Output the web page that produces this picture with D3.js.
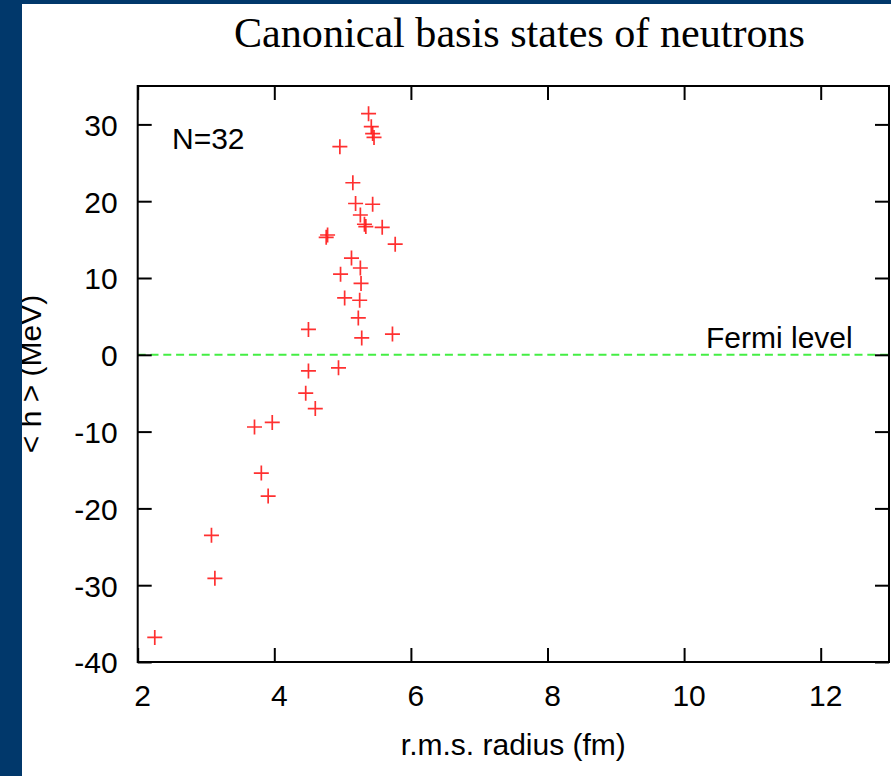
<!DOCTYPE html>
<html>
<head>
<meta charset="utf-8">
<script src="https://cdn.jsdelivr.net/npm/d3@7"></script>
<style>
  body { margin: 0; background: #ffffff; }
  svg { display: block; }
</style>
</head>
<body>
<svg></svg>
<script>
/* data */
var radius = [2.25, 3.08, 3.13, 3.71, 3.97, 3.81, 3.91, 4.46, 4.50, 4.60,
              4.50, 4.94, 4.76, 4.78, 4.96, 4.97, 5.03, 5.13, 5.15, 5.19,
              5.26, 5.32, 5.34, 5.58, 5.44, 5.26, 5.27, 5.25, 5.23, 5.28,
              5.73, 5.77, 5.38, 5.42, 5.44, 5.46];
var energy = [-36.8, -23.5, -29.1, -9.4, -8.8, -15.4, -18.4, -5.0, -2.1, -7.0,
              3.3, -1.7, 15.3, 15.6, 27.1, 10.5, 7.4, 12.6, 22.4, 19.7,
              18.2, 17.0, 16.7, 16.6, 19.6, 11.3, 9.3, 7.1, 4.8, 2.2,
              2.7, 14.4, 31.4, 29.7, 28.8, 28.3];
var xTicks = [2, 4, 6, 8, 10, 12];
var yTicks = [-40, -30, -20, -10, 0, 10, 20, 30];
var fermiLevel = 0;

var title = "Canonical basis states of neutrons";
var xTitle = "r.m.s. radius (fm)";
var yTitle = "< h > (MeV)";
var nucleusLabel = "N=32";

/* svg setting */
var svgWidth = 891;
var svgHeight = 776;
var frame = {left: 137.7, right: 889, top: 86, bottom: 662};
var tickLen = 14;
var fontSans = "'Liberation Sans', Arial, sans-serif";
var fontSize = "30px";

var svg = d3.select("svg")
    .attr("width", svgWidth)
    .attr("height", svgHeight);

var scale = {};
scale.x = d3.scaleLinear().domain([2, 13]).range([frame.left, frame.right]);
scale.y = d3.scaleLinear().domain([-40, 35]).range([frame.bottom, frame.top]);

svg.append("rect")
    .attr("width", svgWidth).attr("height", svgHeight)
    .attr("fill", "#ffffff");

/* title */
svg.append("text")
    .attr("x", 234).attr("y", 47)
    .attr("textLength", 571)
    .attr("lengthAdjust", "spacingAndGlyphs")
    .style("font-family", "'Liberation Serif', 'Times New Roman', serif")
    .style("font-size", "42px")
    .attr("fill", "#000")
    .text(title);

/* fermi level line */
svg.append("line")
    .attr("x1", frame.left).attr("x2", frame.right)
    .attr("y1", scale.y(fermiLevel)).attr("y2", scale.y(fermiLevel))
    .attr("stroke", "#44ee44")
    .attr("stroke-width", 2)
    .attr("stroke-dasharray", "8,4.8");

/* axes, ticks pointing inward; plain hyphen for negatives like the original */
function plain(d) { return String(d); }

function drawAxis(axis, tx, ty) {
  var g = svg.append("g")
      .attr("transform", translate(tx, ty))
      .call(axis.tickSizeInner(-tickLen).tickSizeOuter(0).tickFormat(plain));
  g.select(".domain").remove();
  g.selectAll(".tick line").attr("stroke", "#000").attr("stroke-width", 2);
  return g;
}

var gx = drawAxis(d3.axisBottom(scale.x).tickValues(xTicks), 0, frame.bottom);
gx.selectAll(".tick text")
    .attr("y", 44).attr("dy", 0).attr("dx", 4.5);

var gxTop = drawAxis(d3.axisTop(scale.x).tickValues(xTicks), 0, frame.top);
gxTop.selectAll(".tick text").remove();

var gy = drawAxis(d3.axisLeft(scale.y).tickValues(yTicks), frame.left, 0);
gy.selectAll(".tick text")
    .attr("x", -20).attr("dy", "0.36em");

var gyRight = drawAxis(d3.axisRight(scale.y).tickValues(yTicks), frame.right, 0);
gyRight.selectAll(".tick text").remove();

svg.selectAll(".tick text")
    .attr("fill", "#000")
    .style("font-family", fontSans)
    .style("font-size", fontSize);

/* frame */
svg.append("rect")
    .attr("x", frame.left).attr("y", frame.top)
    .attr("width", frame.right - frame.left)
    .attr("height", frame.bottom - frame.top)
    .attr("fill", "none")
    .attr("stroke", "#000")
    .attr("stroke-width", 2);

/* points */
var points = radius.map(function(r, i) { return {x: r, y: energy[i]}; });
svg.append("g")
  .selectAll("path")
  .data(points)
  .enter()
  .append("path")
    .attr("transform", function(d) { return translate(scale.x(d.x), scale.y(d.y)); })
    .attr("d", "M-7.5,0H7.5M0,-7.5V7.5")
    .attr("stroke", "#ff1a1a")
    .attr("stroke-opacity", 0.9)
    .attr("stroke-width", 1.7)
    .attr("fill", "none");

/* labels */
svg.append("text")
    .attr("x", 172).attr("y", 149)
    .style("font-family", fontSans).style("font-size", fontSize)
    .text(nucleusLabel);

svg.append("text")
    .attr("x", 706).attr("y", 348)
    .style("font-family", fontSans).style("font-size", fontSize)
    .text("Fermi level");

svg.append("text")
    .attr("x", (frame.left + frame.right) / 2).attr("y", 755)
    .attr("text-anchor", "middle")
    .style("font-family", fontSans).style("font-size", fontSize)
    .text(xTitle);

svg.append("text")
    .attr("transform", translate(41, (frame.top + frame.bottom) / 2) + " rotate(-90)")
    .attr("text-anchor", "middle")
    .style("font-family", fontSans).style("font-size", fontSize)
    .text(yTitle);

/* slide border */
svg.append("rect")
    .attr("x", 0).attr("y", 0).attr("width", svgWidth).attr("height", 4)
    .attr("fill", "#01386b");
svg.append("rect")
    .attr("x", 0).attr("y", 0).attr("width", 22).attr("height", svgHeight)
    .attr("fill", "#01386b");

function translate(x, y) {
  return "translate(" + x + "," + y + ")";
}
</script>
</body>
</html>
